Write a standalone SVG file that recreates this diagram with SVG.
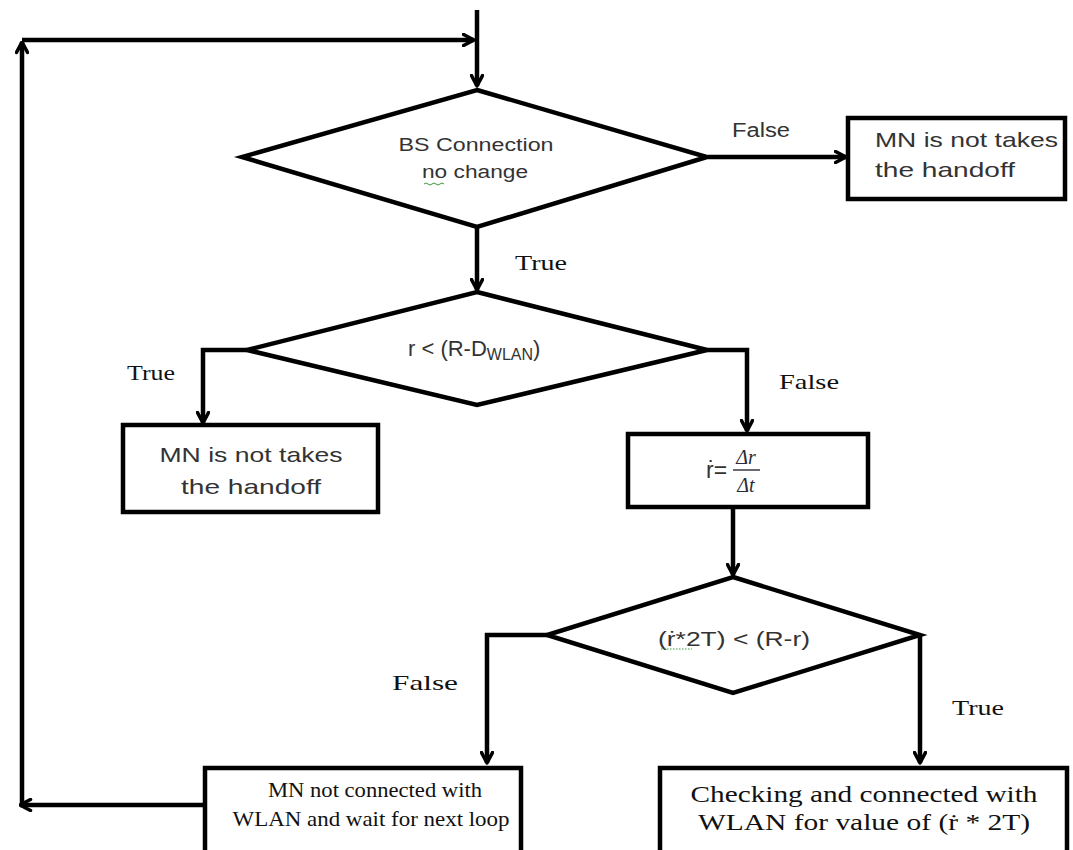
<svg xmlns="http://www.w3.org/2000/svg" width="1073" height="850" viewBox="0 0 1073 850">
<defs>
<marker id="arr" viewBox="0 0 14 14" refX="12.5" refY="7" markerWidth="14" markerHeight="14" markerUnits="userSpaceOnUse" orient="auto">
<path d="M2,1.5 L12.5,7 L2,12.5" fill="none" stroke="#000" stroke-width="3.5" stroke-linecap="round" stroke-linejoin="round"/>
</marker>
</defs>
<style>
.shape{fill:#fff;stroke:#000;stroke-width:4.5;stroke-linejoin:miter}
.conn{fill:none;stroke:#000;stroke-width:4.5}
.sans{font-family:"Liberation Sans",Arial,sans-serif;fill:#333}
.serif{font-family:"Liberation Serif","Times New Roman",serif;fill:#111}
</style>
<rect width="1073" height="850" fill="#fff"/>
<g id="connectors">
<path class="conn" d="M477,10 L477,86" marker-end="url(#arr)"/>
<path class="conn" d="M22,40 L474,40" marker-end="url(#arr)"/>
<path class="conn" d="M22,805 L22,42" marker-end="url(#arr)"/>
<path class="conn" d="M205,805 L20,805" marker-end="url(#arr)"/>
<path class="conn" d="M708,157 L846,157" marker-end="url(#arr)"/>
<path class="conn" d="M477,227 L477,290" marker-end="url(#arr)"/>
<path class="conn" d="M247,350 L203,350 L203,423" marker-end="url(#arr)"/>
<path class="conn" d="M707,350 L747,350 L747,431" marker-end="url(#arr)"/>
<path class="conn" d="M733,507 L733,575" marker-end="url(#arr)"/>
<path class="conn" d="M547,635 L487,635 L487,763" marker-end="url(#arr)"/>
<path class="conn" d="M920,635 L920,763" marker-end="url(#arr)"/>
<text class="sans" x="732" y="137" font-size="20" textLength="58" lengthAdjust="spacingAndGlyphs">False</text>
<text class="serif" x="515" y="270" font-size="21" textLength="52" lengthAdjust="spacingAndGlyphs">True</text>
<text class="serif" x="127" y="380" font-size="22" textLength="48" lengthAdjust="spacingAndGlyphs">True</text>
<text class="serif" x="779" y="389" font-size="21" textLength="60" lengthAdjust="spacingAndGlyphs">False</text>
<text class="serif" x="392" y="690" font-size="21" textLength="66" lengthAdjust="spacingAndGlyphs">False</text>
<text class="serif" x="952" y="715" font-size="21" textLength="52" lengthAdjust="spacingAndGlyphs">True</text>
</g>
<g id="d1">
<polygon class="shape" points="477,90 707,157 477,227 242,157"/>
<text class="sans" x="476" y="151" font-size="18" text-anchor="middle" textLength="155" lengthAdjust="spacingAndGlyphs">BS Connection</text>
<text class="sans" x="475" y="178" font-size="18" text-anchor="middle" textLength="106" lengthAdjust="spacingAndGlyphs">no change</text>
<path d="M424,184 q2,-2 4,0 t4,0 t4,0 t4,0 t4,0" fill="none" stroke="#3a9a3a" stroke-width="1"/>
</g>
<g id="b1">
<rect class="shape" x="848" y="118" width="217" height="81"/>
<text class="sans" x="875" y="147" font-size="21" textLength="183" lengthAdjust="spacingAndGlyphs">MN is not takes</text>
<text class="sans" x="875" y="177" font-size="21" textLength="140" lengthAdjust="spacingAndGlyphs">the handoff</text>
</g>
<g id="d2">
<polygon class="shape" points="477,292 707,350 477,405 247,350"/>
<text class="sans" x="408" y="356" font-size="22">r &lt; (R-D<tspan font-size="16" dy="4">WLAN</tspan><tspan dy="-4">)</tspan></text>
</g>
<g id="b2">
<rect class="shape" x="123" y="425" width="255" height="87"/>
<text class="sans" x="251" y="462" font-size="21" text-anchor="middle" textLength="183" lengthAdjust="spacingAndGlyphs">MN is not takes</text>
<text class="sans" x="251" y="494" font-size="21" text-anchor="middle" textLength="140" lengthAdjust="spacingAndGlyphs">the handoff</text>
</g>
<g id="b3">
<rect class="shape" x="628" y="434" width="240" height="73"/>
<text class="sans" x="706" y="478" font-size="23" fill="#2b2b3b">ṙ=</text>
<text x="746" y="464" font-size="20" font-style="italic" text-anchor="middle" font-family="'Liberation Serif',serif" fill="#2b2b3b">Δr</text>
<line x1="733" y1="470" x2="760" y2="470" stroke="#2b2b3b" stroke-width="1.4"/>
<text x="746" y="492" font-size="20" font-style="italic" text-anchor="middle" font-family="'Liberation Serif',serif" fill="#2b2b3b">Δt</text>
</g>
<g id="d3">
<polygon class="shape" points="733,577 920,635 733,693 547,635"/>
<text class="sans" x="734" y="646" font-size="20" text-anchor="middle" textLength="152" lengthAdjust="spacingAndGlyphs">(ṙ*2T) &lt; (R-r)</text>
<line x1="661" y1="649" x2="692" y2="649" stroke="#3a9a3a" stroke-width="1" stroke-dasharray="1.5,1.5"/>
</g>
<g id="b4">
<rect class="shape" x="205" y="768" width="316" height="90"/>
<text class="serif" x="375" y="797" font-size="21" text-anchor="middle" textLength="214" lengthAdjust="spacingAndGlyphs">MN not connected with</text>
<text class="serif" x="371" y="826" font-size="21" text-anchor="middle" textLength="277" lengthAdjust="spacingAndGlyphs">WLAN and wait for next loop</text>
</g>
<g id="b5">
<rect class="shape" x="660" y="768" width="407" height="90"/>
<text class="serif" x="864" y="802" font-size="24" text-anchor="middle" textLength="347" lengthAdjust="spacingAndGlyphs">Checking and connected with</text>
<text class="serif" x="864" y="830" font-size="24" text-anchor="middle" textLength="332" lengthAdjust="spacingAndGlyphs">WLAN for value of (ṙ * 2T)</text>
</g>
</svg>
